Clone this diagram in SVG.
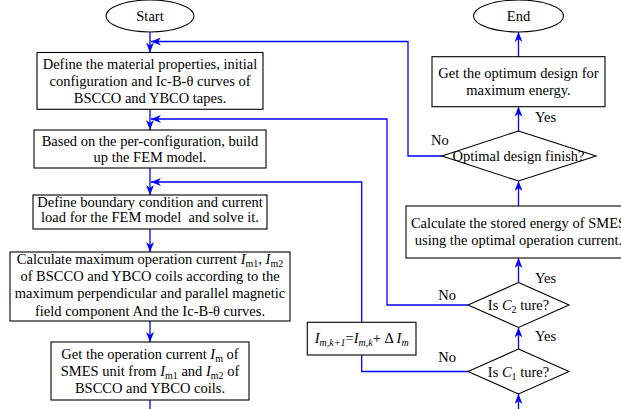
<svg xmlns="http://www.w3.org/2000/svg" width="621" height="409" viewBox="0 0 621 409">
<defs>
<style>
.n{fill:#fff;stroke:#000;stroke-width:1.1}
.t{font-family:"Liberation Serif","Times New Roman",serif;font-size:14.5px;fill:#000;text-anchor:middle}
.l{font-family:"Liberation Serif","Times New Roman",serif;font-size:14.5px;fill:#000}
.s{font-size:10px}
.c{fill:none;stroke:#0000ff;stroke-width:1.3}
.i{font-style:italic}
</style>
<marker id="ah" viewBox="0 0 10 8" refX="10" refY="4" markerWidth="10" markerHeight="8" markerUnits="userSpaceOnUse" orient="auto">
<path d="M0,0 L10,4 L0,8 L3,4 Z" fill="#0000ff"/>
</marker>
</defs>
<rect width="621" height="409" fill="#fff"/>
<g id="connectors">
<line class="c" x1="150" y1="32" x2="150" y2="52.5" marker-end="url(#ah)"/>
<line class="c" x1="150" y1="109.3" x2="150" y2="130" marker-end="url(#ah)"/>
<line class="c" x1="150" y1="168" x2="150" y2="195" marker-end="url(#ah)"/>
<line class="c" x1="150" y1="229" x2="150" y2="252" marker-end="url(#ah)"/>
<line class="c" x1="150" y1="321" x2="150" y2="342" marker-end="url(#ah)"/>
<line class="c" x1="150" y1="400" x2="150" y2="409"/>
<line class="c" x1="518.5" y1="409" x2="518.5" y2="394" marker-end="url(#ah)"/>
<line class="c" x1="518.5" y1="349" x2="518.5" y2="327.5" marker-end="url(#ah)"/>
<line class="c" x1="518.5" y1="282.5" x2="518.5" y2="258" marker-end="url(#ah)"/>
<line class="c" x1="518.5" y1="206" x2="518.5" y2="181" marker-end="url(#ah)"/>
<line class="c" x1="518.5" y1="131" x2="518.5" y2="106.7" marker-end="url(#ah)"/>
<line class="c" x1="518.5" y1="56.7" x2="518.5" y2="32" marker-end="url(#ah)"/>
<polyline class="c" points="442,156 408,156 408,41.5 151,41.5" marker-end="url(#ah)"/>
<polyline class="c" points="468,305 387,305 387,119 151,119" marker-end="url(#ah)"/>
<polyline class="c" points="468,371.5 361.7,371.5 361.7,355"/>
<polyline class="c" points="361.7,322.3 361.7,182 151,182" marker-end="url(#ah)"/>
</g>
<g id="start">
<ellipse class="n" cx="150" cy="16" rx="44" ry="16"/>
<text class="t" x="150" y="20.5">Start</text>
</g>
<g id="box1">
<rect class="n" x="37" y="52.5" width="226" height="56.8"/>
<text class="t" x="150" y="68.5">Define the material properties, initial</text>
<text class="t" x="150" y="86">configuration and Ic-B-θ curves of</text>
<text class="t" x="150" y="103.3">BSCCO and YBCO tapes.</text>
</g>
<g id="box2">
<rect class="n" x="34" y="130" width="232" height="38"/>
<text class="t" x="150" y="145.5">Based on the per-configuration, build</text>
<text class="t" x="150" y="162">up the FEM model.</text>
</g>
<g id="box3">
<rect class="n" x="33" y="195" width="234" height="34"/>
<text class="t" x="150" y="206.7">Define boundary condition and current</text>
<text class="t" x="150" y="222.3" xml:space="preserve">load for the FEM model  and solve it.</text>
</g>
<g id="box4">
<rect class="n" x="10" y="252" width="280" height="69"/>
<text class="t" x="150" y="264">Calculate maximum operation current <tspan class="i">I</tspan><tspan class="s" dy="3">m1</tspan><tspan dy="-3">, </tspan><tspan class="i">I</tspan><tspan class="s" dy="3">m2</tspan></text>
<text class="t" x="150" y="280.5">of BSCCO and YBCO coils according to the</text>
<text class="t" x="150" y="298">maximum perpendicular and parallel magnetic</text>
<text class="t" x="150" y="315.5">field component And the Ic-B-θ curves.</text>
</g>
<g id="box5">
<rect class="n" x="51" y="342" width="198" height="58"/>
<text class="t" x="150" y="359.3">Get the operation current <tspan class="i">I</tspan><tspan class="s" dy="3">m</tspan><tspan dy="-3"> of</tspan></text>
<text class="t" x="150" y="376">SMES unit from <tspan class="i">I</tspan><tspan class="s" dy="3">m1</tspan><tspan dy="-3"> and </tspan><tspan class="i">I</tspan><tspan class="s" dy="3">m2</tspan><tspan dy="-3"> of</tspan></text>
<text class="t" x="150" y="392.5">BSCCO and YBCO coils.</text>
</g>
<g id="end">
<ellipse class="n" cx="518.5" cy="16" rx="45" ry="16"/>
<text class="t" x="518.5" y="20.5">End</text>
</g>
<g id="optimum">
<rect class="n" x="432" y="56.7" width="173" height="50"/>
<text class="t" x="518.5" y="78">Get the optimum design for</text>
<text class="t" x="518.5" y="94.5">maximum energy.</text>
</g>
<g id="finish">
<polygon class="n" points="518.5,131 596,156 518.5,181 442,156"/>
<text class="t" x="518.5" y="160.5">Optimal design finish?</text>
</g>
<g id="energy">
<rect class="n" x="406" y="206" width="225" height="52"/>
<text class="t" x="518.5" y="227.5">Calculate the stored energy of SMES</text>
<text class="t" x="518.5" y="244.5">using the optimal operation current.</text>
</g>
<g id="c2">
<polygon class="n" points="518.5,282.5 569,305 518.5,327.5 468,305"/>
<text class="t" x="518.5" y="310">Is <tspan class="i">C</tspan><tspan class="s" dy="3">2</tspan><tspan dy="-3"> ture?</tspan></text>
</g>
<g id="c1">
<polygon class="n" points="518.5,349 569,371.5 518.5,394 468,371.5"/>
<text class="t" x="518.5" y="376.5">Is <tspan class="i">C</tspan><tspan class="s" dy="3">1</tspan><tspan dy="-3"> ture?</tspan></text>
</g>
<g id="update">
<rect class="n" x="307.3" y="322.3" width="108.7" height="32.7"/>
<text class="t" x="361.7" y="343.3"><tspan class="i">I</tspan><tspan class="s i" dy="3">m,k+1</tspan><tspan dy="-3">=</tspan><tspan class="i">I</tspan><tspan class="s i" dy="3">m,k</tspan><tspan dy="-3">+ Δ </tspan><tspan class="i">I</tspan><tspan class="s i" dy="3">m</tspan></text>
</g>
<g id="labels">
<text class="l" x="535" y="121.5">Yes</text>
<text class="l" x="535" y="282.7">Yes</text>
<text class="l" x="535" y="341">Yes</text>
<text class="l" x="431" y="145.3">No</text>
<text class="l" x="438.3" y="300">No</text>
<text class="l" x="438.3" y="361.7">No</text>
</g>
</svg>
